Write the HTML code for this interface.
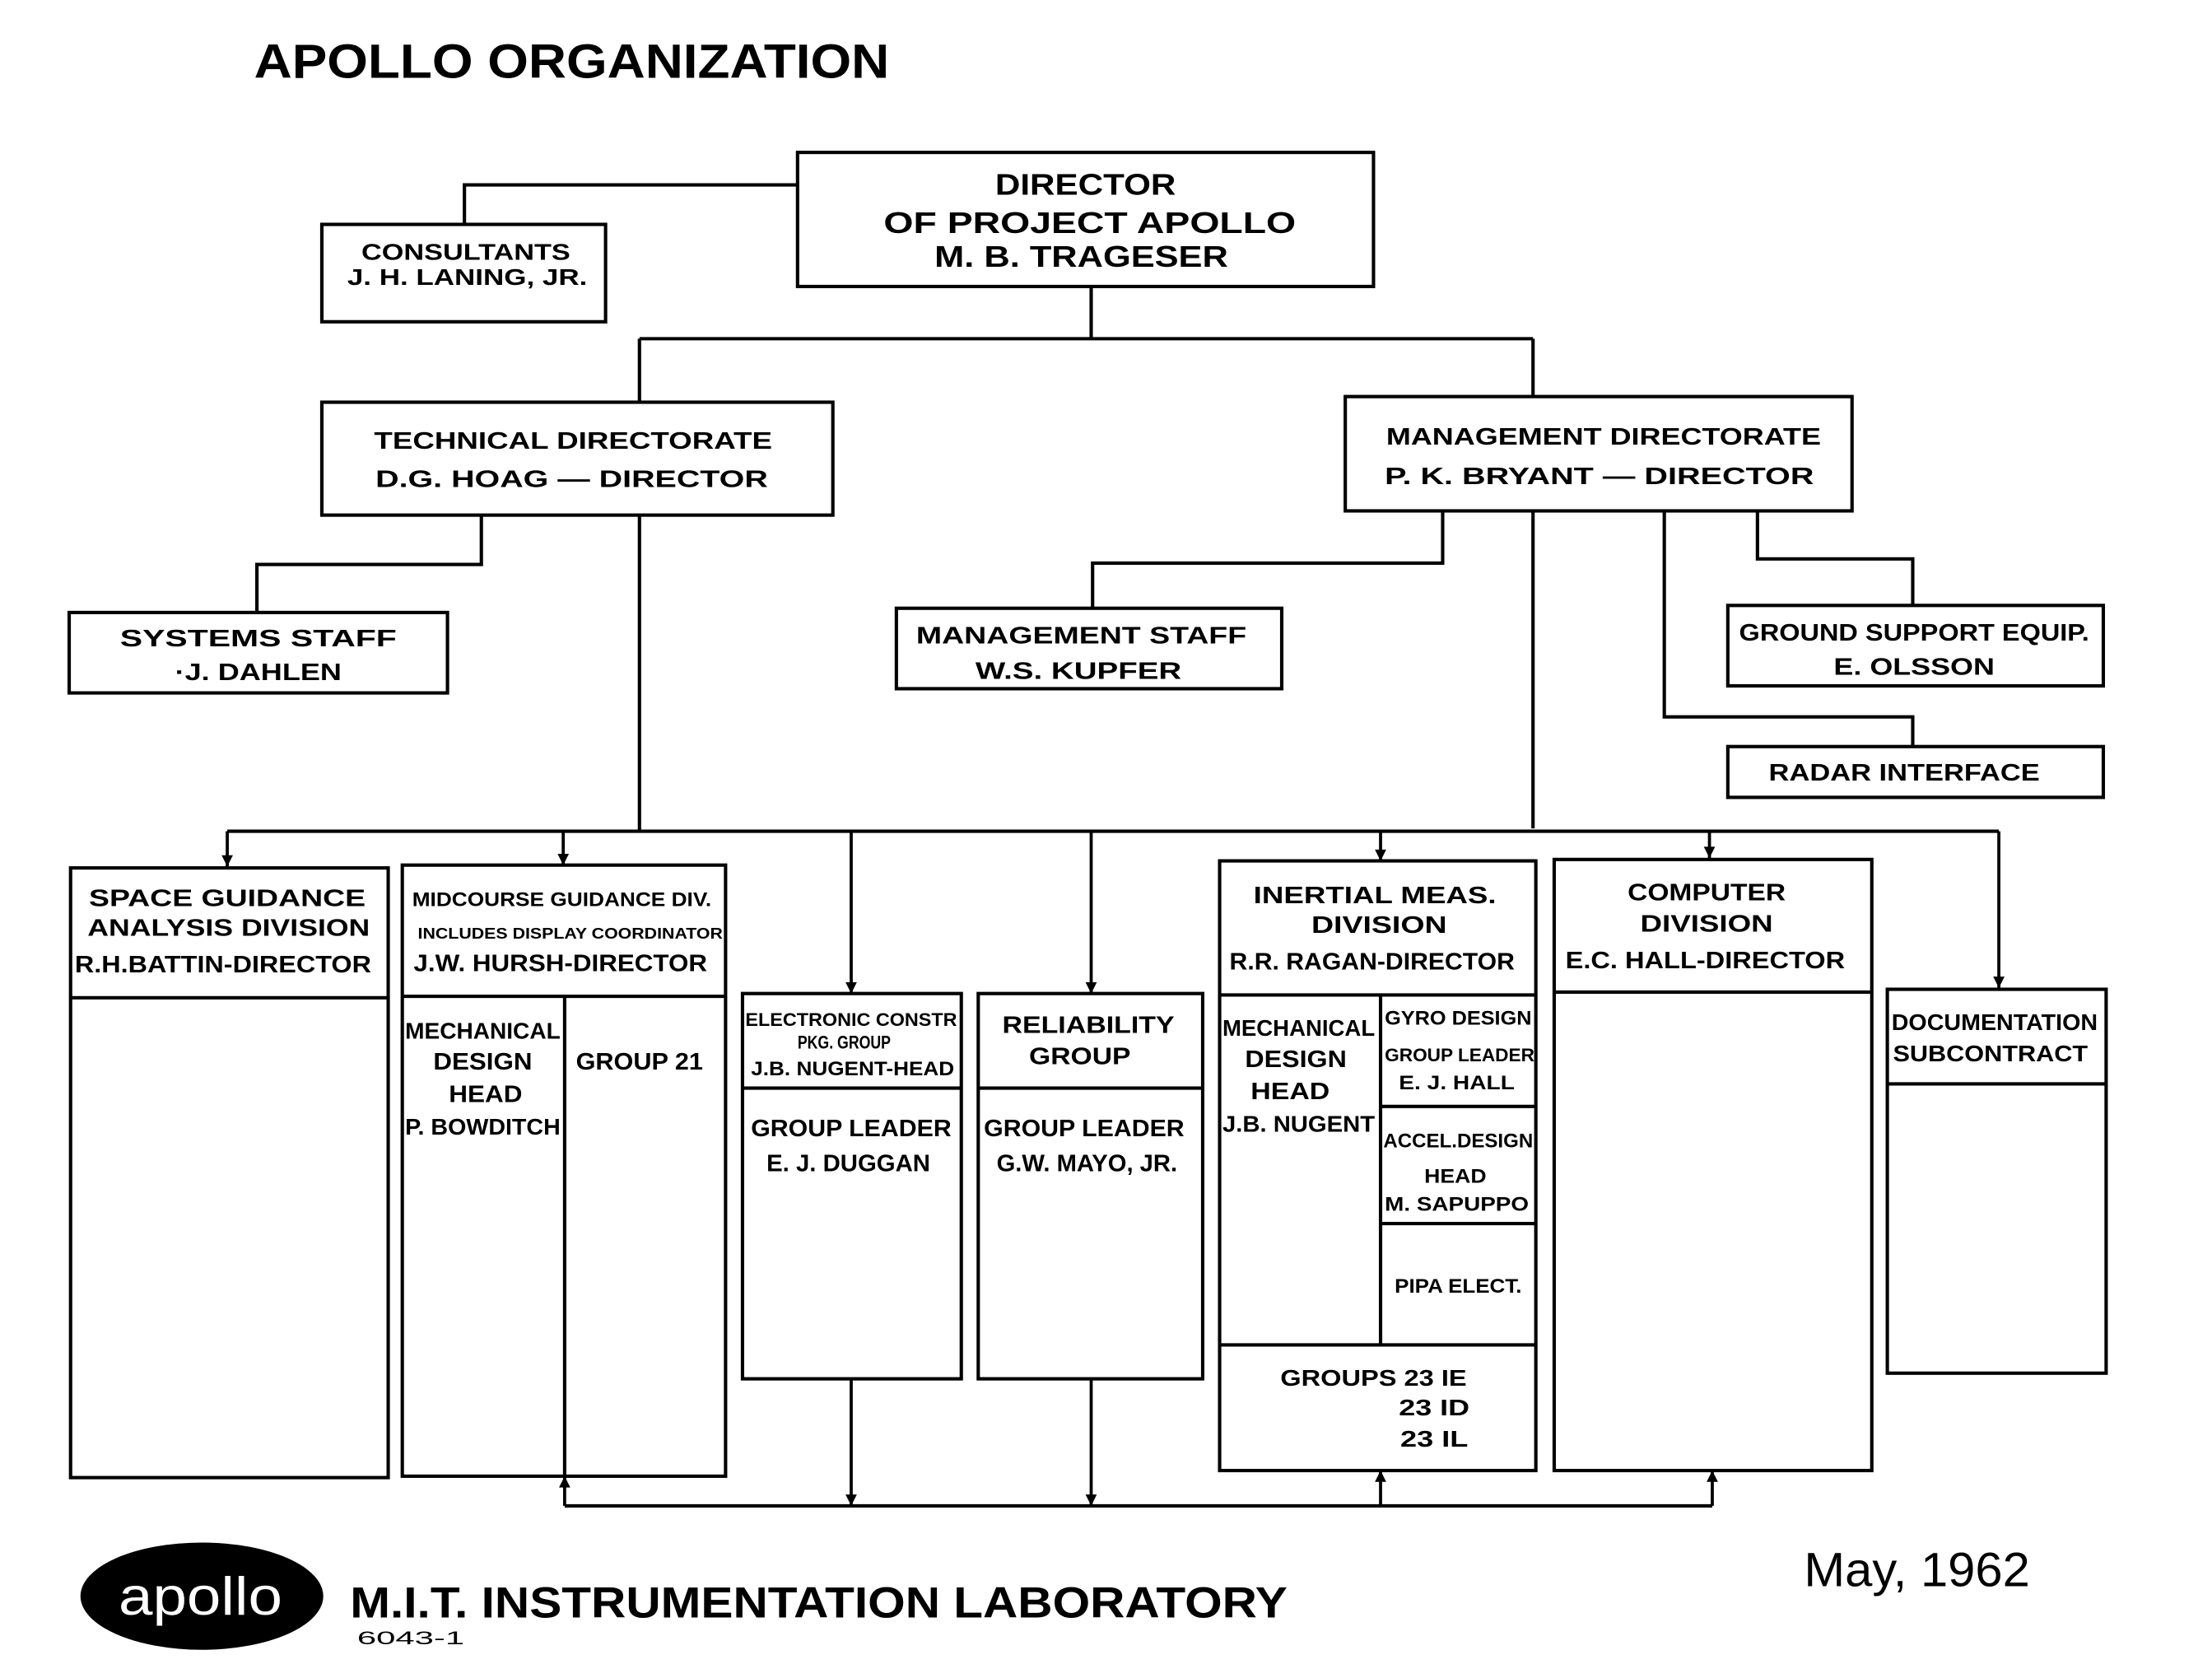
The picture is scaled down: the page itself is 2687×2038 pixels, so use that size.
<!DOCTYPE html>
<html><head><meta charset="utf-8"><style>html,body{margin:0;padding:0;background:#fff}svg{display:block}</style></head>
<body>
<svg width="2687" height="2038" viewBox="0 0 1567 1189" preserveAspectRatio="none" xmlns="http://www.w3.org/2000/svg">
<defs>
<marker id="a" viewBox="0 0 10 10" refX="10" refY="5" markerWidth="12" markerHeight="8" orient="auto" markerUnits="userSpaceOnUse"><path d="M0,0L10,5L0,10z" fill="#000"/></marker>
</defs>
<rect width="1567" height="1189" fill="#fff"/>
<g fill="none" stroke="#000" stroke-width="2.4">
<rect x="565" y="108" width="408" height="95"/>
<rect x="228" y="159" width="201" height="69"/>
<rect x="228" y="285" width="362" height="80"/>
<rect x="953" y="281" width="359" height="81"/>
<rect x="49" y="434" width="268" height="57"/>
<rect x="635" y="431" width="273" height="57"/>
<rect x="1224" y="429" width="266" height="57"/>
<rect x="1224" y="529" width="266" height="36"/>
<rect x="50" y="615" width="225" height="432"/><path d="M50 707H275"/>
<rect x="285" y="613" width="229" height="433"/><path d="M285 706H514M400 706V1046"/>
<rect x="526" y="704" width="155" height="273"/><path d="M526 771H681"/>
<rect x="693" y="704" width="159" height="273"/><path d="M693 771H852"/>
<rect x="864" y="610" width="224" height="432"/><path d="M864 705H1088M978 705V953M864 953H1088M978 784H1088M978 867H1088"/>
<rect x="1101" y="609" width="225" height="433"/><path d="M1101 703H1326"/>
<rect x="1337" y="701" width="155" height="272"/><path d="M1337 768H1492"/>
<path d="M565 131H329V159"/>
<path d="M773 203V240M453 240H1086M453 240V285M1086 240V281"/>
<path d="M341 365V400H182V434"/>
<path d="M453 365V589"/>
<path d="M1022 362V399H774V431"/>
<path d="M1086 362V587"/>
<path d="M1179 362V508H1355V529"/>
<path d="M1245 362V396H1355V429"/>
<path d="M161 589H1416"/>
<path d="M400 1067H1213"/>
</g>
<g fill="none" stroke="#000" stroke-width="2.2" marker-end="url(#a)">
<path d="M161 589V614"/><path d="M399 589V613"/><path d="M603 589V704"/><path d="M773 589V704"/>
<path d="M978 589V610"/><path d="M1211 589V608"/><path d="M1416 589V700"/>
<path d="M603 977V1067"/><path d="M773 977V1067"/>
<path d="M400 1067V1046"/><path d="M978 1067V1042"/><path d="M1213 1067V1042"/>
</g>
<g font-family="Liberation Sans, sans-serif" font-weight="bold" fill="#000" text-anchor="middle">
<text x="405" y="55" font-size="34" textLength="450" lengthAdjust="spacingAndGlyphs">APOLLO  ORGANIZATION</text>
<text x="769" y="138" font-size="21" textLength="128" lengthAdjust="spacingAndGlyphs">DIRECTOR</text>
<text x="772" y="165" font-size="21" textLength="292" lengthAdjust="spacingAndGlyphs">OF PROJECT  APOLLO</text>
<text x="766" y="189" font-size="21" textLength="208" lengthAdjust="spacingAndGlyphs">M. B. TRAGESER</text>
<text x="330" y="184" font-size="16" textLength="148" lengthAdjust="spacingAndGlyphs">CONSULTANTS</text>
<text x="331" y="202" font-size="16" textLength="170" lengthAdjust="spacingAndGlyphs">J. H. LANING, JR.</text>
<text x="406" y="318" font-size="17" textLength="282" lengthAdjust="spacingAndGlyphs">TECHNICAL  DIRECTORATE</text>
<text x="405" y="345" font-size="17" textLength="278" lengthAdjust="spacingAndGlyphs">D.G. HOAG  —  DIRECTOR</text>
<text x="1136" y="315" font-size="17" textLength="308" lengthAdjust="spacingAndGlyphs">MANAGEMENT  DIRECTORATE</text>
<text x="1133" y="343" font-size="17" textLength="304" lengthAdjust="spacingAndGlyphs">P. K. BRYANT  —   DIRECTOR</text>
<text x="183" y="458" font-size="17" textLength="196" lengthAdjust="spacingAndGlyphs">SYSTEMS  STAFF</text>
<text x="183" y="482" font-size="17" textLength="118" lengthAdjust="spacingAndGlyphs">·J. DAHLEN</text>
<text x="766" y="456" font-size="17" textLength="234" lengthAdjust="spacingAndGlyphs">MANAGEMENT  STAFF</text>
<text x="764" y="481" font-size="17" textLength="146" lengthAdjust="spacingAndGlyphs">W.S. KUPFER</text>
<text x="1356" y="454" font-size="17" textLength="248" lengthAdjust="spacingAndGlyphs">GROUND SUPPORT EQUIP.</text>
<text x="1356" y="478" font-size="17" textLength="114" lengthAdjust="spacingAndGlyphs">E. OLSSON</text>
<text x="1349" y="553" font-size="17" textLength="192" lengthAdjust="spacingAndGlyphs">RADAR INTERFACE</text>
<text x="161" y="642" font-size="17" textLength="196" lengthAdjust="spacingAndGlyphs">SPACE   GUIDANCE</text>
<text x="162" y="663" font-size="17" textLength="200" lengthAdjust="spacingAndGlyphs">ANALYSIS  DIVISION</text>
<text x="158" y="689" font-size="17" textLength="210" lengthAdjust="spacingAndGlyphs">R.H.BATTIN-DIRECTOR</text>
<text x="398" y="642" font-size="14" textLength="212" lengthAdjust="spacingAndGlyphs">MIDCOURSE GUIDANCE DIV.</text>
<text x="404" y="665" font-size="11" textLength="216" lengthAdjust="spacingAndGlyphs">INCLUDES DISPLAY COORDINATOR</text>
<text x="397" y="688" font-size="17" textLength="208" lengthAdjust="spacingAndGlyphs">J.W. HURSH-DIRECTOR</text>
<text x="342" y="736" font-size="16" textLength="110" lengthAdjust="spacingAndGlyphs">MECHANICAL</text>
<text x="342" y="758" font-size="17" textLength="70" lengthAdjust="spacingAndGlyphs">DESIGN</text>
<text x="344" y="781" font-size="17" textLength="52" lengthAdjust="spacingAndGlyphs">HEAD</text>
<text x="342" y="804" font-size="16" textLength="110" lengthAdjust="spacingAndGlyphs">P. BOWDITCH</text>
<text x="453" y="758" font-size="17" textLength="90" lengthAdjust="spacingAndGlyphs">GROUP 21</text>
<text x="603" y="727" font-size="13" textLength="150" lengthAdjust="spacingAndGlyphs">ELECTRONIC CONSTR</text>
<text x="598" y="743" font-size="13" textLength="66" lengthAdjust="spacingAndGlyphs">PKG. GROUP</text>
<text x="604" y="762" font-size="14" textLength="144" lengthAdjust="spacingAndGlyphs">J.B. NUGENT-HEAD</text>
<text x="603" y="805" font-size="17" textLength="142" lengthAdjust="spacingAndGlyphs">GROUP LEADER</text>
<text x="601" y="830" font-size="17" textLength="116" lengthAdjust="spacingAndGlyphs">E. J. DUGGAN</text>
<text x="771" y="732" font-size="17" textLength="122" lengthAdjust="spacingAndGlyphs">RELIABILITY</text>
<text x="765" y="754" font-size="17" textLength="72" lengthAdjust="spacingAndGlyphs">GROUP</text>
<text x="768" y="805" font-size="17" textLength="142" lengthAdjust="spacingAndGlyphs">GROUP LEADER</text>
<text x="770" y="830" font-size="17" textLength="128" lengthAdjust="spacingAndGlyphs">G.W. MAYO, JR.</text>
<text x="974" y="640" font-size="17" textLength="172" lengthAdjust="spacingAndGlyphs">INERTIAL  MEAS.</text>
<text x="977" y="661" font-size="17" textLength="96" lengthAdjust="spacingAndGlyphs">DIVISION</text>
<text x="972" y="687" font-size="17" textLength="202" lengthAdjust="spacingAndGlyphs">R.R. RAGAN-DIRECTOR</text>
<text x="920" y="734" font-size="16" textLength="108" lengthAdjust="spacingAndGlyphs">MECHANICAL</text>
<text x="918" y="756" font-size="17" textLength="72" lengthAdjust="spacingAndGlyphs">DESIGN</text>
<text x="914" y="779" font-size="17" textLength="56" lengthAdjust="spacingAndGlyphs">HEAD</text>
<text x="920" y="802" font-size="16" textLength="108" lengthAdjust="spacingAndGlyphs">J.B. NUGENT</text>
<text x="1033" y="726" font-size="14" textLength="104" lengthAdjust="spacingAndGlyphs">GYRO DESIGN</text>
<text x="1034" y="752" font-size="13" textLength="106" lengthAdjust="spacingAndGlyphs">GROUP LEADER</text>
<text x="1032" y="772" font-size="14" textLength="82" lengthAdjust="spacingAndGlyphs">E. J. HALL</text>
<text x="1033" y="813" font-size="14" textLength="106" lengthAdjust="spacingAndGlyphs">ACCEL.DESIGN</text>
<text x="1031" y="838" font-size="14" textLength="44" lengthAdjust="spacingAndGlyphs">HEAD</text>
<text x="1032" y="858" font-size="14" textLength="102" lengthAdjust="spacingAndGlyphs">M. SAPUPPO</text>
<text x="1033" y="916" font-size="14" textLength="90" lengthAdjust="spacingAndGlyphs">PIPA ELECT.</text>
<text x="973" y="982" font-size="16" textLength="132" lengthAdjust="spacingAndGlyphs">GROUPS 23 IE</text>
<text x="1016" y="1003" font-size="16" textLength="50" lengthAdjust="spacingAndGlyphs">23 ID</text>
<text x="1016" y="1025" font-size="16" textLength="48" lengthAdjust="spacingAndGlyphs">23 IL</text>
<text x="1209" y="638" font-size="17" textLength="112" lengthAdjust="spacingAndGlyphs">COMPUTER</text>
<text x="1209" y="660" font-size="17" textLength="94" lengthAdjust="spacingAndGlyphs">DIVISION</text>
<text x="1208" y="686" font-size="17" textLength="198" lengthAdjust="spacingAndGlyphs">E.C. HALL-DIRECTOR</text>
<text x="1413" y="730" font-size="16" textLength="146" lengthAdjust="spacingAndGlyphs">DOCUMENTATION</text>
<text x="1410" y="752" font-size="16" textLength="138" lengthAdjust="spacingAndGlyphs">SUBCONTRACT</text>
</g>
<ellipse cx="143" cy="1131" rx="86" ry="38" fill="#000"/>
<text x="142" y="1144" font-family="Liberation Sans, sans-serif" font-size="38" fill="#fff" text-anchor="middle" textLength="116" lengthAdjust="spacingAndGlyphs">apollo</text>
<text x="248" y="1146" font-family="Liberation Sans, sans-serif" font-weight="bold" font-size="31" textLength="664" lengthAdjust="spacingAndGlyphs">M.I.T.  INSTRUMENTATION  LABORATORY</text>
<text x="253" y="1165" font-family="Liberation Sans, sans-serif" font-size="13" textLength="76" lengthAdjust="spacingAndGlyphs">6043-1</text>
<text x="1278" y="1124" font-family="Liberation Sans, sans-serif" font-size="34" textLength="160" lengthAdjust="spacingAndGlyphs">May, 1962</text>
</svg>
</body></html>
